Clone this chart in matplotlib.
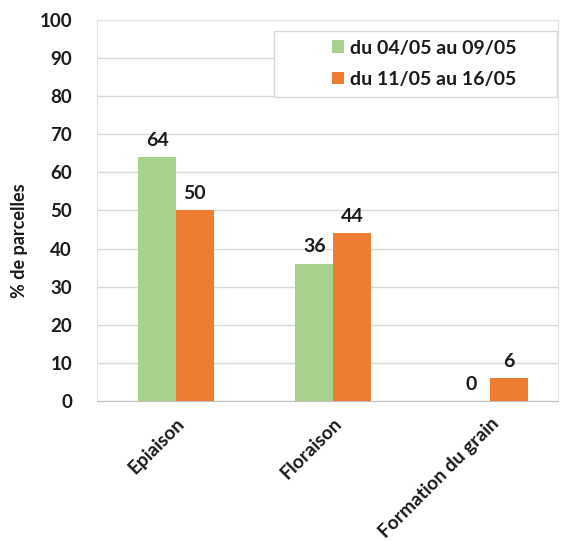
import numpy as np
import matplotlib.pyplot as plt
import matplotlib.transforms as mtrans
from matplotlib.patches import Rectangle

plt.rcParams['font.family'] = ['Lato', 'DejaVu Sans']
plt.rcParams['font.weight'] = 'bold'
plt.rcParams['text.color'] = '#1a1a1a'

categories = ['Epiaison', 'Floraison', 'Formation du grain']
serie1 = [64, 36, 0]
serie2 = [50, 44, 6]
labels1 = ['64', '36', '0']
labels2 = ['50', '44', '6']
legend_names = ['du 04/05 au 09/05', 'du 11/05 au 16/05']
green = '#A9D18E'
orange = '#ED7D31'

fig = plt.figure(figsize=(5.61, 5.41), dpi=100)
ax = fig.add_axes([0.173, 0.259, 0.822, 0.704])

x = np.arange(len(categories))
w = 0.24
ax.bar(x - w/2, serie1, w, color=green, label=legend_names[0], zorder=3)
ax.bar(x + w/2, serie2, w, color=orange, label=legend_names[1], zorder=3)

for i in range(len(x)):
    ax.text(x[i] - w/2, serie1[i] + 2.2, labels1[i], ha='center', va='bottom',
            fontsize=14, fontweight='bold')
    ax.text(x[i] + w/2, serie2[i] + 2.2, labels2[i], ha='center', va='bottom',
            fontsize=14, fontweight='bold')

ax.set_ylim(0, 100)
ax.set_xlim(-0.503, 2.433)
ax.set_yticks(range(0, 101, 10))
ax.yaxis.grid(True, color='#D9D9D9', linewidth=1, zorder=0)
ax.set_xticks(x)
ax.set_xticklabels(categories, rotation=45, ha='right', rotation_mode='anchor',
                   fontsize=13.8, fontweight='bold', color='#1a1a1a')
shift = mtrans.ScaledTranslation(-6/100, 0, fig.dpi_scale_trans)
for lab in ax.get_xticklabels():
    lab.set_transform(lab.get_transform() + shift)
ax.tick_params(axis='y', labelsize=13.5, labelcolor='#1a1a1a', length=0, pad=18)
ax.tick_params(axis='x', length=0, pad=10)
for s in ['top', 'right', 'left']:
    ax.spines[s].set_color('#E4E4E4')
ax.spines['bottom'].set_color('#BFBFBF')
ax.set_ylabel('% de parcelles', fontsize=13, fontweight='bold', color='#1a1a1a')
ax.yaxis.set_label_coords(-0.150, 0.42)

# legend box drawn separately so the entries sit in the middle of it
ax.add_patch(Rectangle((0.384, 0.798), 0.614, 0.173, transform=ax.transAxes,
                       facecolor='white', edgecolor='#D9D9D9', linewidth=1,
                       zorder=4, clip_on=False))
leg = ax.legend(loc='center', bbox_to_anchor=(0.71, 0.885), fontsize=14,
                frameon=False, handlelength=0.6, handleheight=0.6,
                handletextpad=0.35, labelspacing=0.75, borderaxespad=0)
leg.set_zorder(5)
for t in leg.get_texts():
    t.set_fontweight('bold')

fig.savefig('out.png', dpi=100)
